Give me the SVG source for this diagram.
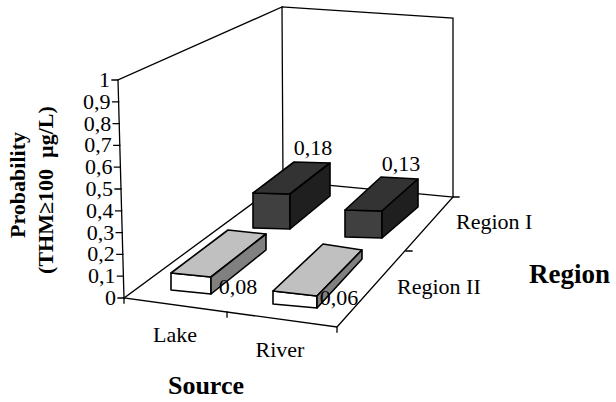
<svg xmlns="http://www.w3.org/2000/svg" width="616" height="402" viewBox="0 0 616 402">
<style>
.ax{stroke:#000;stroke-width:1.3;fill:none;stroke-linecap:square}
.bar{stroke:#000;stroke-width:1.6;stroke-linejoin:round}
.t{font-family:"Liberation Serif","Times New Roman",serif;font-size:22px;fill:#000}
.b{font-family:"Liberation Serif","Times New Roman",serif;font-weight:bold;fill:#000}
.df{fill:#404040}.dt{fill:#333333}.dr{fill:#1f1f1f}
.lf{fill:#ffffff}.lt{fill:#c0c0c0}.lr{fill:#808080}
</style>
<rect width="616" height="402" fill="#fff"/>
<g id="axes" class="ax">
<polyline points="283,181 282,7 118,80 124,298 337,327 453,197 453,18 282,7"/>
<line x1="283" y1="181" x2="453" y2="197"/>
<line x1="124" y1="298" x2="283" y2="181"/>
<path d="M118,298H124M117.4,276.2H123.4M116.8,254.4H122.8M116.2,232.6H122.2M115.6,210.8H121.6M115,189H121M114.4,167.2H120.4M113.8,145.4H119.8M113.2,123.6H119.2M112.6,101.8H118.6M112,80H118"/>
<path d="M124,298V303M227,312V317M337,327V332M406,251H412M453,197H459"/>
</g>
<g id="ticklabels" class="t" text-anchor="end">
<text x="116" y="305">0</text>
<text x="115.4" y="283.2">0,1</text>
<text x="114.8" y="261.4">0,2</text>
<text x="114.2" y="239.6">0,3</text>
<text x="113.6" y="217.8">0,4</text>
<text x="113" y="196">0,5</text>
<text x="112.4" y="174.2">0,6</text>
<text x="111.8" y="152.4">0,7</text>
<text x="111.2" y="130.6">0,8</text>
<text x="110.6" y="108.8">0,9</text>
<text x="110" y="87">1</text>
</g>
<g id="bar-lake-region1" class="bar">
<polygon class="df" points="253,193 290,194 290,229 253,228"/>
<polygon class="dt" points="253,193 294,162 330,163 290,194"/>
<polygon class="dr" points="290,194 330,163 330,196 290,229"/>
</g>
<g id="bar-river-region1" class="bar">
<polygon class="df" points="345,210 382,211 382,238 345,237"/>
<polygon class="dt" points="345,210 381,177 418,179 382,211"/>
<polygon class="dr" points="382,211 418,179 418,207 382,238"/>
</g>
<g id="bar-lake-region2" class="bar">
<polygon class="lf" points="171,273 211,277 211,294 171,290"/>
<polygon class="lt" points="171,273 228,230 266,234 211,277"/>
<polygon class="lr" points="211,277 266,234 266,250 211,294"/>
</g>
<g id="bar-river-region2" class="bar">
<polygon class="lf" points="273,291 317,296 317,308 273,304"/>
<polygon class="lt" points="273,291 323,244 362,250 317,296"/>
<polygon class="lr" points="317,296 362,250 362,259 317,308"/>
</g>
<g id="values" class="t" text-anchor="middle">
<text x="313" y="155">0,18</text>
<text x="401" y="171">0,13</text>
<text x="238" y="294">0,08</text>
<text x="339" y="305">0,06</text>
</g>
<g id="categories" class="t">
<text x="175" y="342" text-anchor="middle">Lake</text>
<text x="280" y="357" text-anchor="middle">River</text>
<text x="456" y="229">Region I</text>
<text x="397" y="294">Region II</text>
</g>
<g id="titles" class="b">
<text x="206" y="394" font-size="26" text-anchor="middle">Source</text>
<text x="529" y="283" font-size="27">Region</text>
<text transform="translate(25,185) rotate(-90)" font-size="22" text-anchor="middle">Probability</text>
<text transform="translate(53,190) rotate(-90)" font-size="22" text-anchor="middle" xml:space="preserve">(THM≥100  µg/L)</text>
</g>
</svg>
